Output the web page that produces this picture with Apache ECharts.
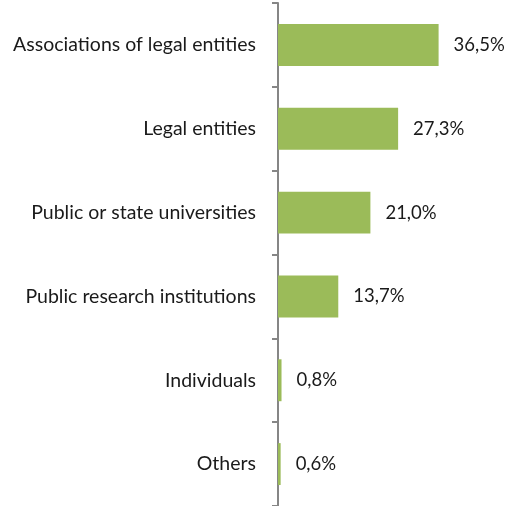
<!DOCTYPE html>
<html><head><meta charset="utf-8">
<script src="https://cdn.jsdelivr.net/npm/echarts@6/dist/echarts.min.js"></script>
<style>html,body{margin:0;padding:0;background:#fff}#c{width:518px;height:506px}</style>
</head><body><div id="c"></div>
<script>
const categories = ["Associations of legal entities","Legal entities","Public or state universities","Public research institutions","Individuals","Others"];
const values = [36.5, 27.3, 21.0, 13.7, 0.8, 0.6];
const chart = echarts.init(document.getElementById('c'), null, {renderer:'canvas'});
chart.setOption({
  animation:false,
  grid:{left:278, top:3, width:220, height:504},
  xAxis:{type:'value', min:0, max:50, show:false},
  yAxis:{type:'category', data:categories, inverse:true,
    axisLine:{show:true, lineStyle:{color:'#868686', width:2}},
    axisTick:{show:true, length:6, lineStyle:{color:'#868686', width:2}},
    axisLabel:{margin:22, fontFamily:'Lato', fontSize:19.5, color:'#1a1a1a'}},
  series:[{type:'bar', data:values, barWidth:'50%',
    itemStyle:{color:'#9BBB59'},
    label:{show:true, position:'right', distance:15, fontFamily:'Lato', fontSize:18.5, color:'#1a1a1a',
      formatter:p=>p.value.toFixed(1).replace('.',',')+'%'}}]
});
</script></body></html>
